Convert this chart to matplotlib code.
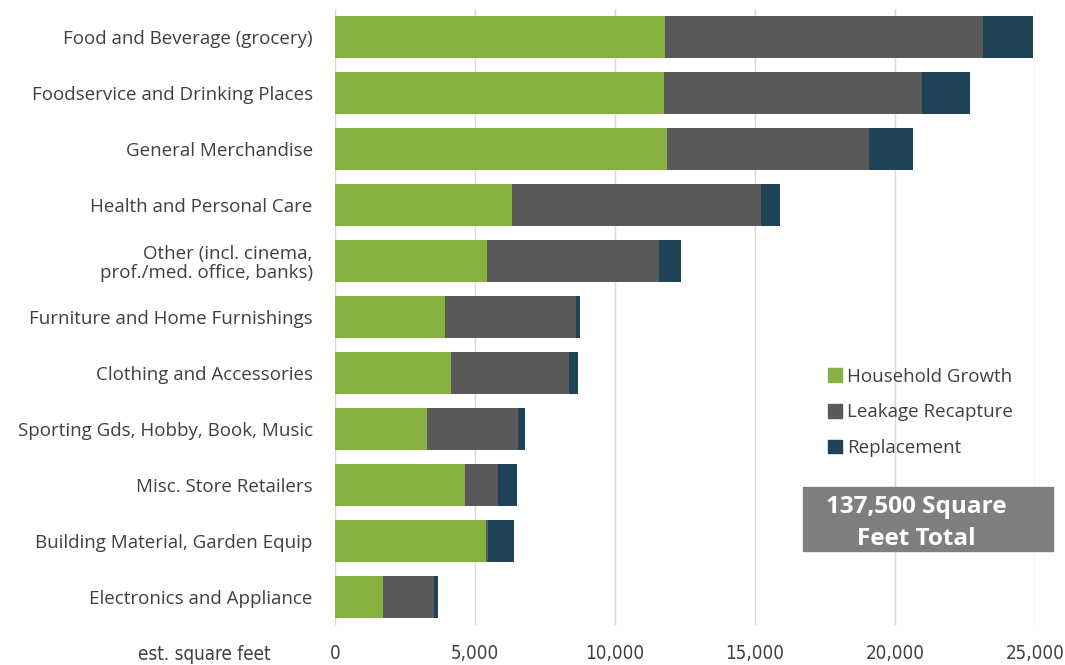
import matplotlib.pyplot as plt
from matplotlib.patches import Patch
from matplotlib.ticker import FuncFormatter

# kategorije od zgoraj navzdol
categories = [
    "Food and Beverage (grocery)",
    "Foodservice and Drinking Places",
    "General Merchandise",
    "Health and Personal Care",
    "Other (incl. cinema,\nprof./med. office, banks)",
    "Furniture and Home Furnishings",
    "Clothing and Accessories",
    "Sporting Gds, Hobby, Book, Music",
    "Misc. Store Retailers",
    "Building Material, Garden Equip",
    "Electronics and Appliance",
]
household = [11800, 11750, 11860, 6320, 5430, 3930, 4140, 3290, 4640, 5390, 1710]
leakage = [11340, 9210, 7210, 8890, 6140, 4680, 4220, 3250, 1180, 70, 1830]
replacement = [1790, 1720, 1570, 680, 790, 140, 320, 250, 680, 930, 140]
series_names = ["Household Growth", "Leakage Recapture", "Replacement"]
xticks = [0, 5000, 10000, 15000, 20000, 25000]
total_text = "137,500 Square\nFeet Total"

colors = ["#86b03f", "#595959", "#1f4458"]
txt = "#404040"

fig = plt.figure(figsize=(10.65, 6.65), dpi=100)
ax = fig.add_axes([335 / 1065, 1 - 625 / 665, 700 / 1065, 616 / 665])

y = list(range(len(categories)))
left = [0] * len(categories)
for vals, c in zip([household, leakage, replacement], colors):
    ax.barh(y, vals, left=left, height=0.75, color=c, zorder=3)
    left = [a + b for a, b in zip(left, vals)]

ax.set_ylim(len(categories) - 0.5, -0.5)
ax.set_xlim(0, 25000)
ax.set_yticks(y)
ax.set_yticklabels(categories, fontsize=13.5, color=txt, family="Open Sans",
                   multialignment="right", linespacing=1.1)
ax.set_xticks(xticks)
ax.xaxis.set_major_formatter(FuncFormatter(lambda v, p: f"{int(v):,}"))
for lab in ax.get_xticklabels():
    lab.set_fontsize(13.5)
    lab.set_color(txt)
    lab.set_fontstretch("condensed")
ax.tick_params(axis="both", length=0)
ax.tick_params(axis="x", pad=14)
ax.tick_params(axis="y", pad=16)
ax.grid(axis="x", color="#d9d9d9", linewidth=1, zorder=0)
for s in ax.spines.values():
    s.set_visible(False)

fig.text(271 / 1065, 1 - 655 / 665, "est. square feet", fontsize=13.5, color=txt,
         ha="right", va="center", fontstretch="condensed")

handles = [Patch(color=c) for c in colors]
leg = ax.legend(handles, series_names, loc="upper left",
                bbox_to_anchor=(820 / 1065, 1 - 360 / 665),
                bbox_transform=fig.transFigure, frameon=False,
                prop={"family": "Open Sans", "size": 13.5},
                handlelength=0.75, handleheight=0.75, handletextpad=0.3,
                labelspacing=0.95, borderaxespad=0)
for t in leg.get_texts():
    t.set_color(txt)

fig.patches.append(plt.Rectangle((803 / 1065, 1 - 551 / 665), 250 / 1065, 64 / 665,
                                 transform=fig.transFigure, color="#7f7f7f", zorder=5))
fig.text(916 / 1065, 1 - 523 / 665, total_text, ha="center", va="center",
         color="white", fontsize=17.5, fontweight="bold", family="Open Sans",
         linespacing=1.4, zorder=6)

fig.savefig("out.png", dpi=100)
